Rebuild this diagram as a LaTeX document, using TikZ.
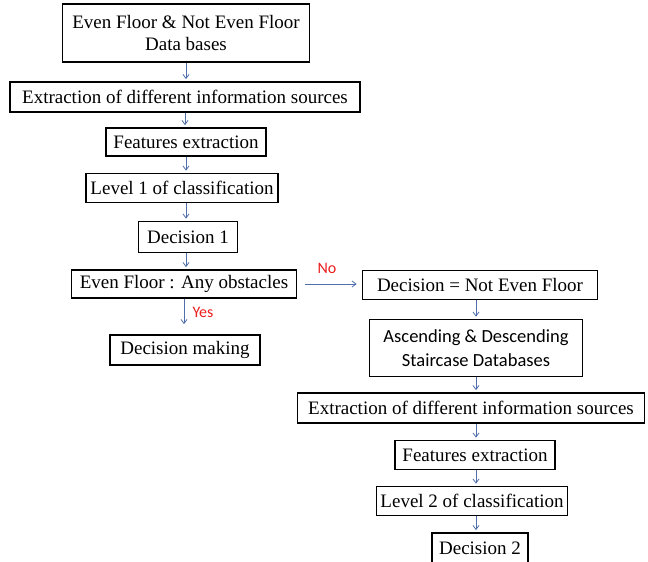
\documentclass[tikz,border=0pt]{standalone}
\usepackage{fontspec}
\setmainfont{Liberation Serif}
\newfontfamily\calibrifont{Carlito}
\usetikzlibrary{arrows.meta}
\definecolor{flowblue}{RGB}{79,110,170}
\definecolor{labelred}{RGB}{235,30,30}

\begin{document}
\begin{tikzpicture}[
    x=1pt, y=-1pt,
    box/.style={draw, line width=1.8pt, inner sep=0pt, align=center, font=\fontsize{19}{22}\selectfont},
    arrow/.style={-{Straight Barb[length=4pt,width=6pt]}, flowblue, line width=0.8pt},
    tag/.style={text=labelred, font=\calibrifont\fontsize{16}{18}\selectfont}
]
\useasboundingbox (0,0) rectangle (648,562);

% Left column: even floor branch
\node[box, minimum width=247, minimum height=58] (db1) at (186,33) {Even Floor \& Not Even Floor\\Data bases};
\node[box, minimum width=350, minimum height=30] (ext1) at (185,97) {Extraction of different information sources};
\node[box, minimum width=160, minimum height=28] (feat1) at (186,142) {Features extraction};
\node[box, minimum width=192, minimum height=29] (lvl1) at (182,188) {Level 1 of classification};
\node[box, minimum width=99, minimum height=31] (dec1) at (188,237) {Decision 1};
\node[box, minimum width=225, minimum height=28] (obst) at (184,284) {Even Floor : Any obstacles};
\node[box, minimum width=150, minimum height=30] (making) at (185,350) {Decision making};

% Right column: staircase branch
\node[box, minimum width=235, minimum height=29] (noteven) at (480,285) {Decision = Not Even Floor};
\node[box, minimum width=213, minimum height=57, font=\calibrifont\fontsize{18.5}{24}\selectfont] (stair) at (476,348) {Ascending \& Descending\\Staircase Databases};
\node[box, minimum width=347, minimum height=30] (ext2) at (471,408) {Extraction of different information sources};
\node[box, minimum width=160, minimum height=29] (feat2) at (475,455) {Features extraction};
\node[box, minimum width=191, minimum height=29] (lvl2) at (472,501) {Level 2 of classification};
\node[box, minimum width=96, minimum height=30] (dec2) at (480,548) {Decision 2};

% Arrows
\draw[arrow, shorten >=2pt] (db1.south) -- (db1.south |- ext1.north);
\draw[arrow, shorten >=2pt] (ext1.south) -- (ext1.south |- feat1.north);
\draw[arrow, shorten >=2pt] (feat1.south -| db1.south) -- (db1.south |- lvl1.north);
\draw[arrow, shorten >=2pt] (lvl1.south -| db1.south) -- (db1.south |- dec1.north);
\draw[arrow, shorten >=2pt] (dec1.south -| db1.south) -- (db1.south |- obst.north);
\draw[arrow, shorten >=10pt] (obst.south) -- (obst.south |- making.north);
\draw[arrow, shorten <=8pt, shorten >=5pt] (obst.east) -- (obst.east -| noteven.west);
\draw[arrow, shorten >=2pt] (stair.north |- noteven.south) -- (stair.north);
\draw[arrow, shorten >=2pt] (stair.south) -- (stair.south |- ext2.north);
\draw[arrow, shorten >=2pt] (stair.south |- ext2.south) -- (stair.south |- feat2.north);
\draw[arrow, shorten >=2pt] (stair.south |- feat2.south) -- (stair.south |- lvl2.north);
\draw[arrow, shorten >=2pt] (stair.south |- lvl2.south) -- (stair.south |- dec2.north);

% Branch labels
\node[tag] (no) at (327,268) {No};
\node[tag] (yes) at (203,312) {Yes};

\end{tikzpicture}
\end{document}
